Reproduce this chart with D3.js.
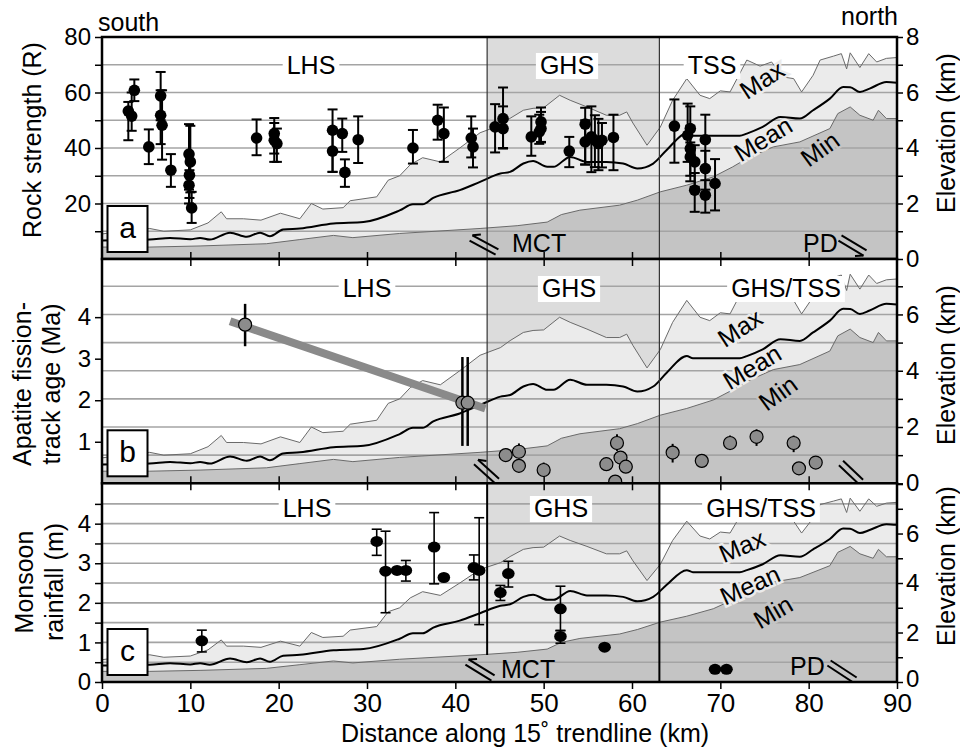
<!DOCTYPE html>
<html>
<head>
<meta charset="utf-8">
<script src="https://cdn.jsdelivr.net/npm/d3@7"></script>
<style>
body { margin: 0; background: #fff; }
svg text { font-family: "Liberation Sans", Arial, sans-serif; fill: #000; }
</style>
</head>
<body>
<svg id="chart" width="960" height="753"></svg>
<script>
// elevation swath profile along the trendline (km -> km a.s.l.)
const maxKm = [0, 2, 5.4, 7, 10, 12, 13.5, 14.1, 16, 18, 20.2, 22.4, 23.7, 25, 27.3, 28.1, 31.1, 32.4, 33.7, 34.9, 36.3, 38.3, 40.5, 42.8, 45.1, 46.2, 47.7, 48.8, 50, 51.8, 53, 54.9, 57.1, 58.6, 59.4, 60.1, 61.7, 63.2, 64.6, 66.2, 67.7, 68.8, 70, 71.1, 73, 74.5, 75.8, 77.1, 78.3, 79.2, 80.5, 81.3, 82.8, 83.7, 84.3, 84.7, 85.8, 86.8, 87.7, 88.8, 90];
const maxElev = [0.9, 1.0, 1.1, 1.0, 1.05, 1.3, 1.7, 1.45, 1.45, 1.4, 1.65, 1.45, 2.0, 1.8, 1.85, 2.1, 2.24, 2.84, 3.0, 3.4, 3.65, 3.5, 4.0, 4.55, 4.82, 5.07, 5.36, 5.43, 5.45, 5.9, 5.72, 5.48, 5.18, 5.18, 5.3, 4.9, 4.1, 4.75, 5.72, 6.5, 5.9, 5.78, 6.06, 6.02, 7.17, 6.95, 7.1, 6.56, 6.5, 6.02, 6.62, 7.17, 7.31, 7.4, 6.85, 7.43, 6.9, 7.4, 7.1, 7.23, 7.26];
const meanKm = [0, 5.4, 7.7, 10, 11.1, 12.2, 14.5, 16.4, 17.9, 19, 20.5, 22.4, 26.2, 29.6, 33.7, 35.2, 36.3, 37.5, 40.5, 42.8, 45.1, 46.2, 47.7, 48.8, 50.4, 51.1, 53, 54.9, 57.1, 59, 60.6, 62.4, 63.9, 66.2, 66.9, 72.2, 73, 74.8, 76.8, 79, 80.5, 82.4, 83.9, 84.7, 85.8, 86.9, 88.8, 90];
const meanElev = [0.67, 0.7, 0.76, 0.71, 0.76, 0.7, 0.95, 0.8, 0.95, 0.82, 1.06, 1.1, 1.28, 1.33, 1.75, 1.97, 1.97, 2.2, 2.48, 2.78, 3.08, 3.14, 3.44, 3.53, 3.32, 3.32, 3.68, 3.5, 3.5, 3.44, 3.26, 3.44, 3.92, 4.52, 4.44, 4.44, 4.52, 4.76, 5.12, 5.06, 5.36, 5.78, 6.2, 6.19, 6.02, 6.14, 6.38, 6.35];
const minKm = [0, 5.4, 11.1, 18.6, 22.4, 26.2, 28.4, 33.7, 42.8, 47, 50.4, 52, 54.1, 58.6, 60.6, 63.2, 66.2, 69.2, 71.4, 73, 76, 79, 82.4, 83.3, 84.7, 85.8, 87.3, 87.9, 88.8, 90];
const minElev = [0.43, 0.43, 0.47, 0.55, 0.7, 0.85, 0.77, 0.92, 1.1, 1.2, 1.33, 1.6, 1.76, 1.94, 2.12, 2.42, 2.66, 2.96, 3.32, 3.62, 4.04, 4.22, 4.7, 5.24, 5.48, 5.18, 5.0, 5.36, 5.06, 5.06];

// panel a: rock strength (Schmidt hammer R)
const rockKm = [2.98, 3.36, 3.66, 5.3, 6.64, 6.64, 6.8, 7.8, 9.85, 10.0, 9.9, 9.85, 10.15, 17.5, 19.5, 19.5, 19.8, 26.1, 26.1, 27.2, 27.5, 29, 35.2, 38, 38.7, 41.8, 42, 44.5, 45.4, 45.4, 48.6, 49.7, 49.7, 49.5, 52.9, 54.7, 54.7, 55.4, 55.8, 56.2, 56.6, 57.9, 64.8, 66.3, 66.6, 66.6, 66.6, 67.1, 67.1, 68.3, 68.3, 68.3, 69.4];
const rockR = [53.3, 51.5, 60.8, 40.4, 58.8, 51.8, 48.2, 32, 37.8, 35, 30.2, 26.6, 18.4, 43.6, 45.2, 42.8, 41.6, 46.4, 38.9, 45.2, 31.2, 43, 40, 50, 45.2, 43.6, 40.4, 47.6, 50.6, 47, 44, 49.4, 47, 45.8, 38.9, 48.6, 42.2, 44, 42.8, 41.6, 42.8, 43.8, 47.9, 44.6, 47, 39.8, 36.8, 35, 24.8, 43, 32.6, 23, 27.2];
const rockLo = [42.8, 46.2, 56.9, 34.2, 50, 41.4, 35.8, 26, 25, 24, 22, 20, 13, 37.4, 38, 35, 35, 31.4, 31.4, 38.6, 26, 34.6, 34.4, 43, 35, 36.6, 33, 38.4, 39.8, 40, 37.2, 42.2, 42, 41.5, 33.1, 34.1, 34, 31.3, 33.1, 32, 33, 32, 34.7, 35, 37, 30, 28, 26, 17, 33, 25, 16.7, 17.5];
const rockHi = [56.6, 60, 64.7, 46.7, 67.4, 60.8, 60.8, 37.8, 48.6, 48, 32, 30, 24.2, 50.3, 50.8, 49, 47, 53.9, 46, 50.6, 35.9, 51.4, 46.5, 55.6, 54.6, 51.4, 47, 55.8, 61.8, 55, 51.4, 54.6, 53, 52, 44, 54.5, 50, 55, 51.8, 50.5, 49, 52, 57.5, 56, 55, 48, 42, 41, 31, 52, 39, 28.4, 36];

// panel b: apatite fission-track ages (Ma)
const aftKm = [16.2, 40.8, 41.4, 45.7, 47.2, 47.2, 50.0, 57.1, 58.3, 58.7, 59.3, 58.1, 64.6, 67.9, 71.1, 74.1, 78.3, 78.9, 80.8];
const aftAge = [3.82, 1.94, 1.94, 0.68, 0.76, 0.42, 0.32, 0.46, 0.97, 0.62, 0.4, 0.04, 0.74, 0.54, 0.97, 1.12, 0.97, 0.36, 0.5];
const aftLo = [3.3, 0.9, 0.9, 0.55, 0.6, 0.28, 0.18, 0.3, 0.78, 0.5, 0.28, -0.1, 0.5, 0.38, 0.8, 0.9, 0.75, 0.22, 0.4];
const aftHi = [4.32, 3.04, 3.04, 0.82, 0.96, 0.55, 0.5, 0.62, 1.18, 0.75, 0.55, 0.2, 0.95, 0.7, 1.15, 1.3, 1.15, 0.5, 0.62];
const trendKm = [14.5, 43.4];
const trendAge = [3.9, 1.8];

// panel c: monsoon rainfall (m)
const rainKm = [11.3, 31.1, 32.1, 33.4, 34.4, 37.6, 38.7, 42.1, 42.7, 45.1, 46.0, 51.9, 51.9, 56.9, 69.4, 70.7];
const rainM = [1.04, 3.55, 2.8, 2.82, 2.82, 3.41, 2.64, 2.89, 2.82, 2.26, 2.74, 1.85, 1.15, 0.88, 0.32, 0.32];
const rainLo = [0.76, 3.2, 1.75, null, 2.55, 2.48, null, 2.58, 1.45, 2.06, 2.4, 1.3, 0.98, 0.83, null, null];
const rainHi = [1.31, 3.86, 3.81, null, 3.07, 4.28, null, 3.21, 4.15, 2.44, 3.05, 2.42, 1.3, 0.93, null, null];

const xTicks = [0, 10, 20, 30, 40, 50, 60, 70, 80, 90];
const elevTicks = [0, 1, 2, 3, 4, 5, 6, 7, 8];
const rockTicks = [10, 20, 30, 40, 50, 60, 70, 80];
const aftTicks = [1, 2, 3, 4];
const rainTicks = [0, 0.5, 1, 1.5, 2, 2.5, 3, 3.5, 4, 4.5];

const svg = d3.select('#chart');
const x = d3.scaleLinear().domain([0, 90]).range([102, 897]);
const mctKm = 43.6, tssKm = 63.1;

const panels = [
  { key: 'a', top: 37, bottom: 259, left: [0, 80], elev: [0, 8],
    leftTicks: rockTicks, leftLab: d => d % 20 === 0 ? d : '', elevLab: d => d % 2 === 0 ? d : '',
    grid: 'elev', gridVals: [1, 2, 3, 4, 5, 6, 7],
    title: ['Rock strength (R)'], titleX: [41], titleY: 140, elevY: 133,
    zone: ['LHS', 'GHS', 'TSS'], zoneY: 74, zoneX: [311, 567, 712],
    mml: [[762, 80, -33], [763, 139, -31], [820, 149, -36]],
    mctArrow: [471, 238, 497, 252], pdArrow: [840, 238, 865, 253],
    mctText: [512, 252], pdText: [803, 252] },
  { key: 'b', top: 259, bottom: 483.3, left: [0, 5.4], elev: [0, 7.97],
    leftTicks: aftTicks, leftLab: d => d, elevLab: d => (d % 2 === 0 && d < 8) ? d : '',
    grid: 'elev', gridVals: [1, 2, 3, 4, 5, 6, 7],
    title: ['Apatite fission-', 'track age (Ma)'], titleX: [31, 60], titleY: 384, elevY: 365,
    zone: ['LHS', 'GHS', 'GHS/TSS'], zoneY: 297, zoneX: [367, 569, 786],
    mml: [[740, 328, -33], [752, 367, -31], [778, 393, -36]],
    mctArrow: [476, 462, 497, 481], pdArrow: [841, 463, 861, 482] },
  { key: 'c', top: 483.3, bottom: 682, left: [0, 5.02], elev: [0, 8.03],
    leftTicks: rainTicks, leftLab: d => d % 1 === 0 ? d : '', elevLab: d => (d % 2 === 0 && d < 8) ? d : '',
    grid: 'left', gridVals: [0.5, 1, 1.5, 2, 2.5, 3, 3.5, 4, 4.5],
    title: ['Monsoon', 'rainfall (m)'], titleX: [33, 63], titleY: 582, elevY: 566,
    zone: ['LHS', 'GHS', 'GHS/TSS'], zoneY: 517, zoneX: [307, 561, 761],
    mml: [[742, 546, -23], [750, 585, -24], [773, 612, -30]],
    mctArrow: [467, 662, 493, 678], pdArrow: [829, 663, 855, 680],
    mctText: [501, 678], pdText: [790, 675] }
];

function doubleArrow(g, c, up) {
  const [x1, y1, x2, y2] = c;
  const len = Math.hypot(x2 - x1, y2 - y1);
  const ux = (x2 - x1) / len, uy = (y2 - y1) / len;
  const nx = -uy * 3, ny = ux * 3;
  [-1, 1].forEach(s => {
    g.append('line')
      .attr('x1', x1 + nx * s).attr('y1', y1 + ny * s)
      .attr('x2', x2 + nx * s).attr('y2', y2 + ny * s)
      .attr('stroke', '#000').attr('stroke-width', 2);
  });
  // half arrow head
  if (up) {
    g.append('line').attr('x1', x1 - nx).attr('y1', y1 - ny)
      .attr('x2', x1 - nx + ux * 7 - nx * 1.6).attr('y2', y1 - ny + uy * 7 - ny * 1.6)
      .attr('stroke', '#000').attr('stroke-width', 2);
  } else {
    g.append('line').attr('x1', x2 + nx).attr('y1', y2 + ny)
      .attr('x2', x2 + nx - ux * 7 + nx * 1.6).attr('y2', y2 + ny - uy * 7 + ny * 1.6)
      .attr('stroke', '#000').attr('stroke-width', 2);
  }
}

function drawPanel(p, i) {
  const yL = d3.scaleLinear().domain(p.left).range([p.bottom, p.top]);
  const yE = d3.scaleLinear().domain(p.elev).range([p.bottom, p.top]);
  const g = svg.append('g');
  svg.append('clipPath').attr('id', 'clip-' + p.key).append('rect')
    .attr('x', x(0)).attr('y', p.top).attr('width', x(90) - x(0)).attr('height', p.bottom - p.top);
  const body = g.append('g').attr('clip-path', `url(#clip-${p.key})`);

  body.append('rect').attr('x', x(0)).attr('y', p.top)
    .attr('width', x(90) - x(0)).attr('height', p.bottom - p.top).attr('fill', '#fff');
  body.append('rect').attr('x', x(mctKm)).attr('y', p.top)
    .attr('width', x(tssKm) - x(mctKm)).attr('height', p.bottom - p.top).attr('fill', '#dcdcdc');

  const maxPts = d3.zip(maxKm, maxElev), meanPts = d3.zip(meanKm, meanElev), minPts = d3.zip(minKm, minElev);
  const area = d3.area().x(d => x(d[0])).y0(p.bottom).y1(d => yE(d[1]));
  const line = d3.line().x(d => x(d[0])).y(d => yE(d[1]));
  body.append('path').attr('d', area(maxPts)).attr('fill', '#ebebeb');
  body.append('path').attr('d', area(minPts)).attr('fill', '#c4c4c4');

  const gy = p.grid === 'elev' ? yE : yL;
  body.selectAll('.grid').data(p.gridVals).enter().append('line')
    .attr('x1', x(0)).attr('x2', x(90)).attr('y1', d => gy(d)).attr('y2', d => gy(d))
    .attr('stroke', '#a4a4a4').attr('stroke-width', 1.6);

  body.append('path').attr('d', line(maxPts)).attr('fill', 'none').attr('stroke', '#6a6a6a').attr('stroke-width', 1);
  body.append('path').attr('d', line(minPts)).attr('fill', 'none').attr('stroke', '#6a6a6a').attr('stroke-width', 1);
  body.append('path').attr('d', line.curve(d3.curveMonotoneX)(meanPts)).attr('fill', 'none')
    .attr('stroke', '#000').attr('stroke-width', 2);

  // unit boundaries
  const bw = p.key === 'c' ? 2 : 1.2, bc = p.key === 'c' ? '#000' : '#333';
  body.append('line').attr('x1', x(mctKm)).attr('x2', x(mctKm)).attr('y1', p.top)
    .attr('y2', p.key === 'c' ? 655 : p.bottom).attr('stroke', bc).attr('stroke-width', bw);
  body.append('line').attr('x1', x(tssKm)).attr('x2', x(tssKm)).attr('y1', p.top)
    .attr('y2', p.bottom).attr('stroke', bc).attr('stroke-width', bw);

  // unit names
  p.zone.forEach((z, j) => {
    const t = body.append('text').attr('x', p.zoneX[j]).attr('y', p.zoneY)
      .attr('text-anchor', 'middle').attr('font-size', 25).text(z);
    const bb = t.node().getBBox();
    body.insert('rect', () => t.node()).attr('x', bb.x - 4).attr('y', bb.y + 2)
      .attr('width', bb.width + 8).attr('height', bb.height - 2).attr('fill', '#fff');
  });

  // Max / Mean / Min
  const halo = ['#ebebeb', '#ebebeb', '#c4c4c4'];
  ['Max', 'Mean', 'Min'].forEach((s, j) => {
    const m = p.mml[j];
    body.append('text').attr('transform', `translate(${m[0]},${m[1]}) rotate(${m[2]})`)
      .attr('text-anchor', 'middle').attr('dy', '0.35em').attr('font-size', 25)
      .attr('stroke', halo[j]).attr('stroke-width', 5).attr('paint-order', 'stroke')
      .style('fill', '#000').text(s);
  });

  doubleArrow(body, p.mctArrow, true);
  doubleArrow(body, p.pdArrow, false);
  if (p.mctText) {
    body.append('text').attr('x', p.mctText[0]).attr('y', p.mctText[1]).attr('font-size', 25).text('MCT');
    body.append('text').attr('x', p.pdText[0]).attr('y', p.pdText[1]).attr('font-size', 25).text('PD');
  }

  // data
  if (p.key === 'a') {
    const d = d3.range(rockKm.length);
    const e = g.append('g').attr('stroke', '#000').attr('stroke-width', 2);
    d.forEach(k => {
      e.append('line').attr('x1', x(rockKm[k])).attr('x2', x(rockKm[k]))
        .attr('y1', yL(rockLo[k])).attr('y2', yL(rockHi[k]));
      [rockLo[k], rockHi[k]].forEach(v => e.append('line')
        .attr('x1', x(rockKm[k]) - 5).attr('x2', x(rockKm[k]) + 5).attr('y1', yL(v)).attr('y2', yL(v)));
    });
    g.selectAll('.rock').data(d).enter().append('circle')
      .attr('cx', k => x(rockKm[k])).attr('cy', k => yL(rockR[k])).attr('r', 5.8).attr('fill', '#000');
  }
  if (p.key === 'b') {
    g.append('path').attr('d', d3.line()(d3.zip(trendKm.map(x), trendAge.map(yL))))
      .attr('stroke', '#8a8a8a').attr('stroke-width', 8);
    const d = d3.range(aftKm.length);
    g.selectAll('.aftbar').data(d).enter().append('line')
      .attr('x1', k => x(aftKm[k])).attr('x2', k => x(aftKm[k]))
      .attr('y1', k => yL(aftLo[k])).attr('y2', k => yL(aftHi[k]))
      .attr('stroke', '#000').attr('stroke-width', k => aftHi[k] - aftLo[k] > 1 ? 2.5 : 2);
    g.selectAll('.aft').data(d).enter().append('circle')
      .attr('cx', k => x(aftKm[k])).attr('cy', k => yL(aftAge[k])).attr('r', 6.5)
      .attr('fill', '#8c8c8c').attr('stroke', '#000').attr('stroke-width', 1.2);
  }
  if (p.key === 'c') {
    const d = d3.range(rainKm.length);
    const e = g.append('g').attr('stroke', '#000').attr('stroke-width', 1.6);
    d.filter(k => rainLo[k] !== null).forEach(k => {
      e.append('line').attr('x1', x(rainKm[k])).attr('x2', x(rainKm[k]))
        .attr('y1', yL(rainLo[k])).attr('y2', yL(rainHi[k]));
      [rainLo[k], rainHi[k]].forEach(v => e.append('line')
        .attr('x1', x(rainKm[k]) - 5).attr('x2', x(rainKm[k]) + 5).attr('y1', yL(v)).attr('y2', yL(v)));
    });
    g.selectAll('.rain').data(d).enter().append('ellipse')
      .attr('cx', k => x(rainKm[k])).attr('cy', k => yL(rainM[k])).attr('rx', 6.3).attr('ry', 5.5).attr('fill', '#000');
  }

  // panel letter
  g.append('rect').attr('x', 107.5).attr('y', p.bottom - 53).attr('width', 40).attr('height', 46)
    .attr('fill', '#fff').attr('stroke', '#000').attr('stroke-width', 2);
  g.append('text').attr('x', 127.5).attr('y', p.bottom - 21).attr('text-anchor', 'middle')
    .attr('font-size', 30).text(p.key);

  // axes
  const styleAxis = (a, size) => {
    a.select('.domain').remove();
    a.selectAll('line').attr('stroke', '#000').attr('stroke-width', 1.5);
    a.selectAll('text').attr('font-size', size).attr('font-family', '"Liberation Sans", Arial, sans-serif');
  };
  const la = g.append('g').attr('transform', `translate(${x(0)},0)`)
    .call(d3.axisLeft(yL).tickValues(p.leftTicks).tickSize(7).tickPadding(4).tickFormat(p.leftLab));
  styleAxis(la, 24);
  const ra = g.append('g').attr('transform', `translate(${x(90)},0)`)
    .call(d3.axisRight(yE).tickValues(elevTicks.filter(v => v <= p.elev[1])).tickSize(6).tickPadding(3).tickFormat(p.elevLab));
  styleAxis(ra, 24);
  if (i === 2) ra.selectAll('text').filter(d => d === 0).attr('dy', '0.2em');
  if (i > 0) {
    const ta = g.append('g').attr('transform', `translate(0,${p.top})`)
      .call(d3.axisBottom(x).tickValues(xTicks.slice(1, -1)).tickSize(7).tickFormat(''));
    styleAxis(ta, 24);
  }
  if (i < 2) {
    const ba = g.append('g').attr('transform', `translate(0,${p.bottom})`)
      .call(d3.axisTop(x).tickValues(xTicks.slice(1, -1)).tickSize(7).tickFormat(''));
    styleAxis(ba, 24);
  } else {
    const ba = g.append('g').attr('transform', `translate(0,${p.bottom})`)
      .call(d3.axisBottom(x).tickValues(xTicks).tickSize(7).tickPadding(5));
    styleAxis(ba, 26);
  }

  g.append('rect').attr('x', x(0)).attr('y', p.top).attr('width', x(90) - x(0))
    .attr('height', p.bottom - p.top).attr('fill', 'none').attr('stroke', '#000').attr('stroke-width', 2.5);

  // axis titles
  p.title.forEach((t, j) => {
    g.append('text').attr('transform', `translate(${p.titleX[j]},${p.titleY}) rotate(-90)`)
      .attr('text-anchor', 'middle').attr('font-size', 25).text(t);
  });
  g.append('text').attr('transform', `translate(955,${p.elevY}) rotate(-90)`)
    .attr('text-anchor', 'middle').attr('font-size', 25).text('Elevation (km)');
}

panels.forEach(drawPanel);

svg.append('text').attr('x', 98).attr('y', 31).attr('font-size', 25).text('south');
svg.append('text').attr('x', 898).attr('y', 25).attr('text-anchor', 'end').attr('font-size', 25).text('north');
svg.append('text').attr('x', 525).attr('y', 742).attr('text-anchor', 'middle').attr('font-size', 25)
  .text('Distance along 15˚ trendline (km)');
</script>
</body>
</html>
